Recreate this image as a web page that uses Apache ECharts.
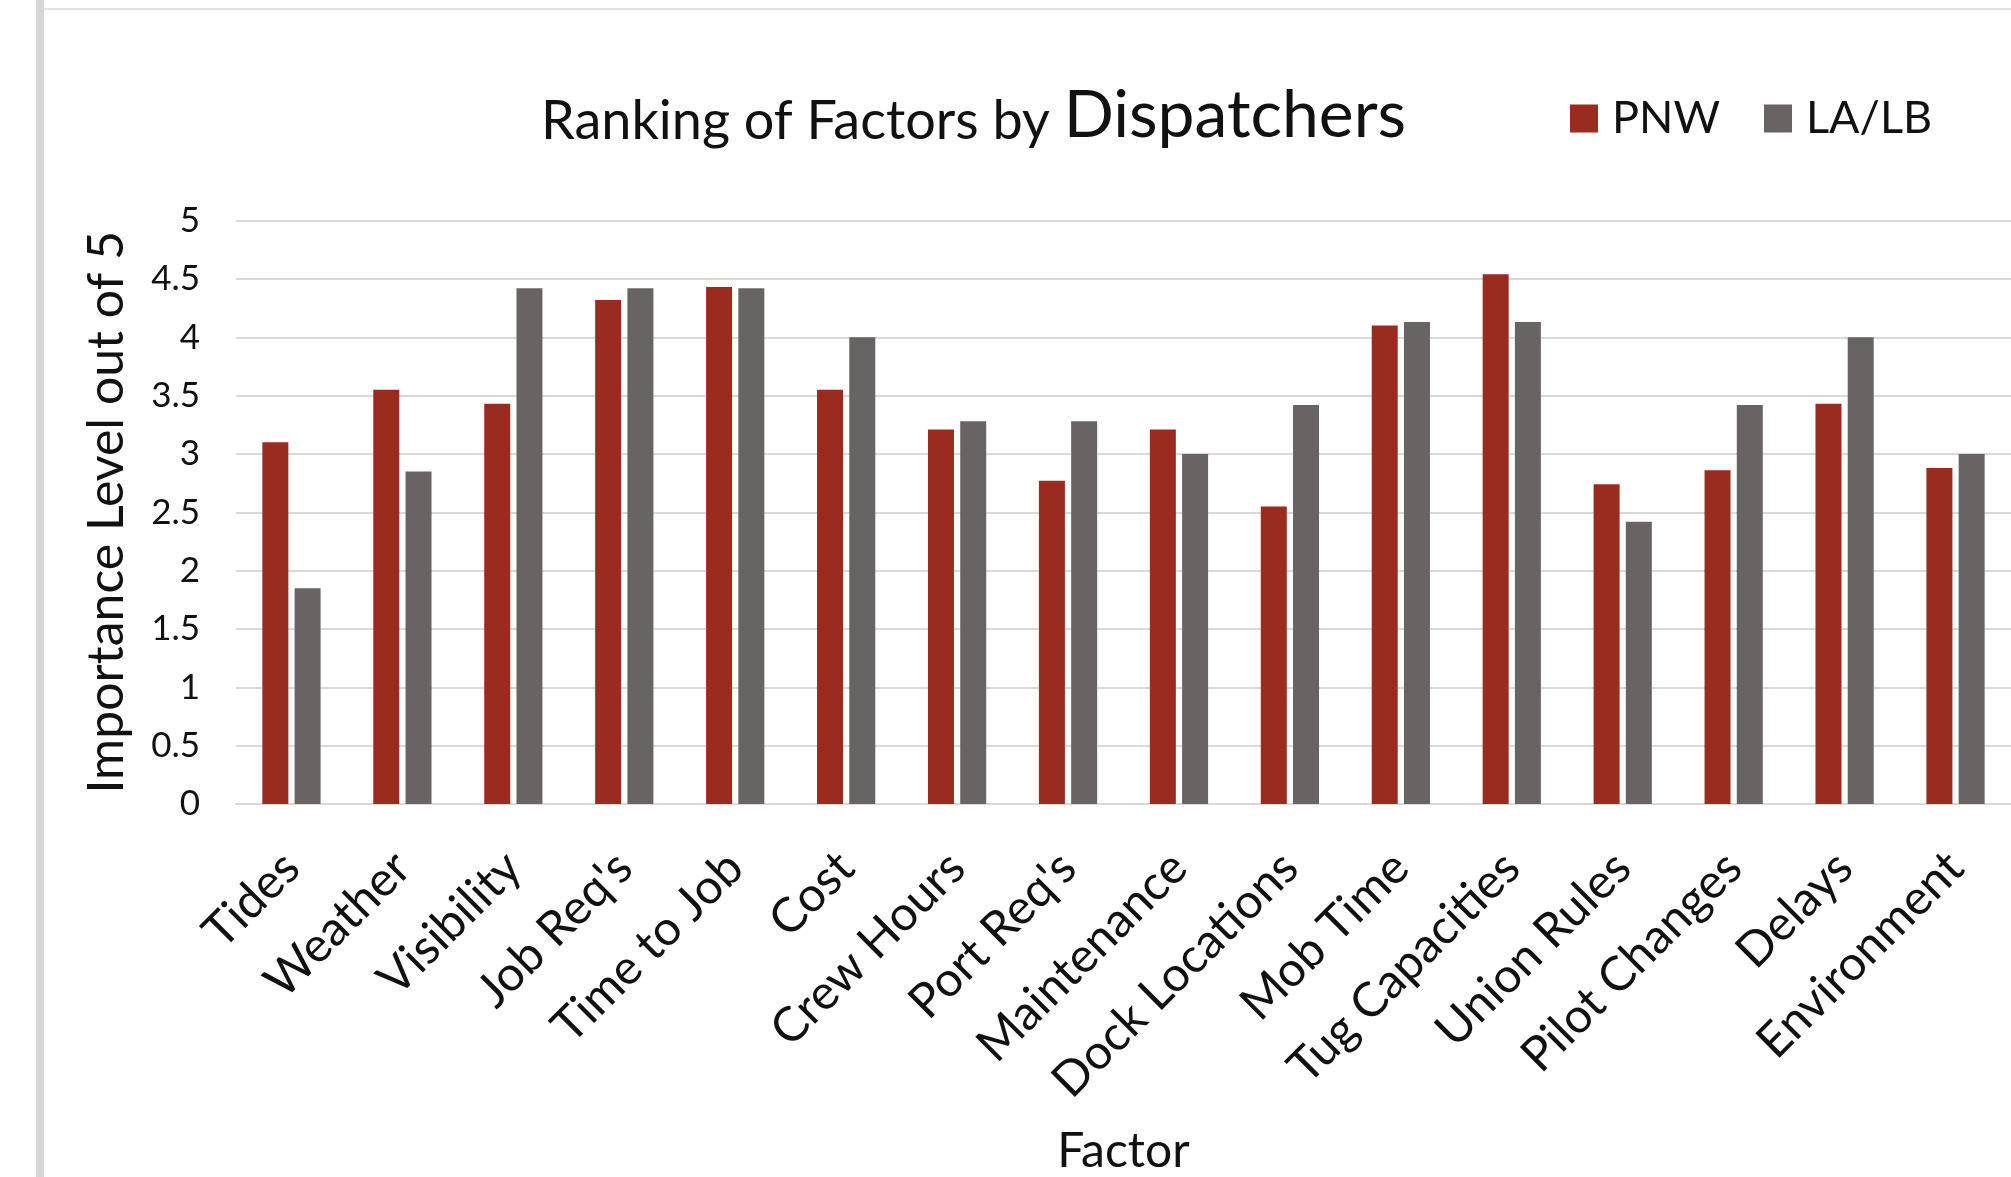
<!DOCTYPE html>
<html>
<head>
<meta charset="utf-8">
<script src="https://cdn.jsdelivr.net/npm/echarts@6/dist/echarts.min.js"></script>
<style>
  html, body { margin: 0; padding: 0; background: #fff; }
  #chart { width: 2011px; height: 1177px; }
</style>
</head>
<body>
<div id="chart"></div>
<script>
// factors and mean importance rankings
var factors = ['Tides', 'Weather', 'Visibility', "Job Req's", 'Time to Job', 'Cost',
               'Crew Hours', "Port Req's", 'Maintenance', 'Dock Locations', 'Mob Time',
               'Tug Capacities', 'Union Rules', 'Pilot Changes', 'Delays', 'Environment'];
var pnw  = [3.1, 3.55, 3.43, 4.32, 4.43, 3.55, 3.21, 2.77, 3.21, 2.55, 4.1, 4.54, 2.74, 2.86, 3.43, 2.88];
var lalb = [1.85, 2.85, 4.42, 4.42, 4.42, 4.0, 3.28, 3.28, 3.0, 3.42, 4.13, 4.13, 2.42, 3.42, 4.0, 3.0];
var seriesNames = ['PNW', 'LA/LB'];

var FONT = 'Lato, "Open Sans", sans-serif';

var myChart = echarts.init(document.getElementById('chart'));

var option = {
    backgroundColor: '#fff',
    animation: false,
    textStyle: { fontFamily: FONT, color: '#111' },
    title: {
        left: 536,
        top: 78,
        text: '{a|Ranking of Factors by }{b|Dispatchers}',
        textStyle: {
            fontWeight: 'normal',
            rich: {
                a: { fontSize: 54, fontFamily: FONT, fontWeight: 'normal', color: '#111', verticalAlign: 'bottom', lineHeight: 66 },
                b: { fontSize: 66, fontFamily: FONT, fontWeight: 'normal', color: '#111', verticalAlign: 'bottom', lineHeight: 66 }
            }
        }
    },
    legend: {
        data: seriesNames,
        left: 1570,
        top: 96,
        padding: 0,
        icon: 'rect',
        itemWidth: 28,
        itemHeight: 28,
        itemGap: 44,
        textStyle: { fontSize: 45, fontFamily: FONT, color: '#111', padding: [0, 0, 0, 9] }
    },
    graphic: [
        { type: 'rect', shape: { x: 36, y: 0, width: 8, height: 1177 }, style: { fill: '#d6d6d6' }, silent: true },
        { type: 'rect', shape: { x: 44, y: 8, width: 1967, height: 2 }, style: { fill: '#e3e3e3' }, silent: true }
    ],
    grid: {
        left: 236,
        top: 220.6,
        width: 1781.6,
        height: 586.1,
        containLabel: false
    },
    xAxis: {
        type: 'category',
        data: factors,
        name: 'Factor',
        nameLocation: 'middle',
        nameGap: 324,
        nameTextStyle: { fontSize: 48, fontFamily: FONT, color: '#111' },
        axisLine: { show: true, lineStyle: { color: '#d9d9d9', width: 2 } },
        axisTick: { show: false },
        axisLabel: { interval: 0, rotate: 45, margin: 56, fontSize: 48, fontFamily: FONT, color: '#111' },
        splitLine: { show: false }
    },
    yAxis: {
        type: 'value',
        min: 0,
        max: 5,
        interval: 0.5,
        name: 'Importance Level out of 5',
        nameLocation: 'middle',
        nameGap: 104,
        nameTextStyle: { fontSize: 50, fontFamily: FONT, color: '#111' },
        axisLine: { show: false },
        axisTick: { show: false },
        axisLabel: { margin: 36, fontSize: 35, fontFamily: FONT, color: '#111' },
        splitLine: { lineStyle: { color: '#d9d9d9', width: 2 } }
    },
    series: [
        {
            name: seriesNames[0],
            type: 'bar',
            data: pnw,
            barWidth: 26,
            barGap: '24%',
            itemStyle: { color: '#992b1f' }
        },
        {
            name: seriesNames[1],
            type: 'bar',
            data: lalb,
            barWidth: 26,
            barGap: '24%',
            itemStyle: { color: '#686464' }
        }
    ]
};

myChart.setOption(option);
</script>
</body>
</html>
